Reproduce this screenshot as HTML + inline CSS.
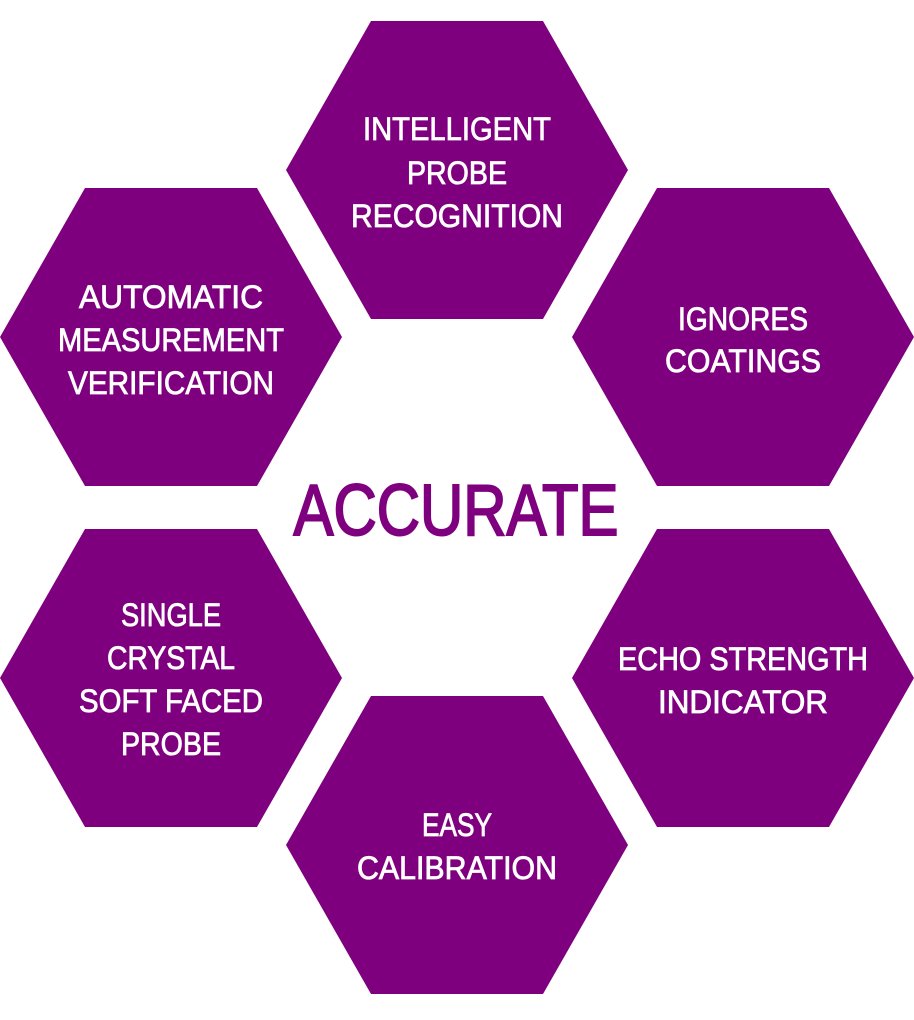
<!DOCTYPE html>
<html><head><style>html,body{margin:0;padding:0;background:#fff}</style></head>
<body>
<svg width="914" height="1015" viewBox="0 0 914 1015" xmlns="http://www.w3.org/2000/svg">
<defs>
<polygon id="h" points="0,149 85,0 257,0 342,149 257,298 85,298"/>
</defs>
<g fill="#7f007e">
<use href="#h" x="286" y="21"/>
<use href="#h" x="0" y="188"/>
<use href="#h" x="572" y="188"/>
<use href="#h" x="0" y="529"/>
<use href="#h" x="572" y="529"/>
<use href="#h" x="286" y="696"/>
</g>
<g fill="#fff" stroke="#fff" stroke-width="0.8" font-family="Liberation Sans, sans-serif" font-size="32" text-anchor="middle">
<text x="457" y="140" textLength="188" lengthAdjust="spacingAndGlyphs">INTELLIGENT</text>
<text x="457" y="184" textLength="100" lengthAdjust="spacingAndGlyphs">PROBE</text>
<text x="457" y="227" textLength="212" lengthAdjust="spacingAndGlyphs">RECOGNITION</text>

<text x="171" y="308" textLength="184" lengthAdjust="spacingAndGlyphs">AUTOMATIC</text>
<text x="171" y="351" textLength="226" lengthAdjust="spacingAndGlyphs">MEASUREMENT</text>
<text x="171" y="394" textLength="206" lengthAdjust="spacingAndGlyphs">VERIFICATION</text>

<text x="743" y="330" textLength="130" lengthAdjust="spacingAndGlyphs">IGNORES</text>
<text x="743" y="372" textLength="156" lengthAdjust="spacingAndGlyphs">COATINGS</text>

<text x="171" y="626" textLength="100" lengthAdjust="spacingAndGlyphs">SINGLE</text>
<text x="171" y="669" textLength="128" lengthAdjust="spacingAndGlyphs">CRYSTAL</text>
<text x="171" y="712" textLength="184" lengthAdjust="spacingAndGlyphs">SOFT FACED</text>
<text x="171" y="755" textLength="100" lengthAdjust="spacingAndGlyphs">PROBE</text>

<text x="743" y="670" textLength="250" lengthAdjust="spacingAndGlyphs">ECHO STRENGTH</text>
<text x="743" y="713" textLength="170" lengthAdjust="spacingAndGlyphs">INDICATOR</text>

<text x="457" y="836" textLength="70" lengthAdjust="spacingAndGlyphs">EASY</text>
<text x="457" y="879" textLength="200" lengthAdjust="spacingAndGlyphs">CALIBRATION</text>
</g>
<text x="456" y="535" fill="#7f007e" stroke="#7f007e" stroke-width="2" font-family="Liberation Sans, sans-serif" font-size="72" text-anchor="middle" textLength="325" lengthAdjust="spacingAndGlyphs">ACCURATE</text>
</svg>
</body></html>
